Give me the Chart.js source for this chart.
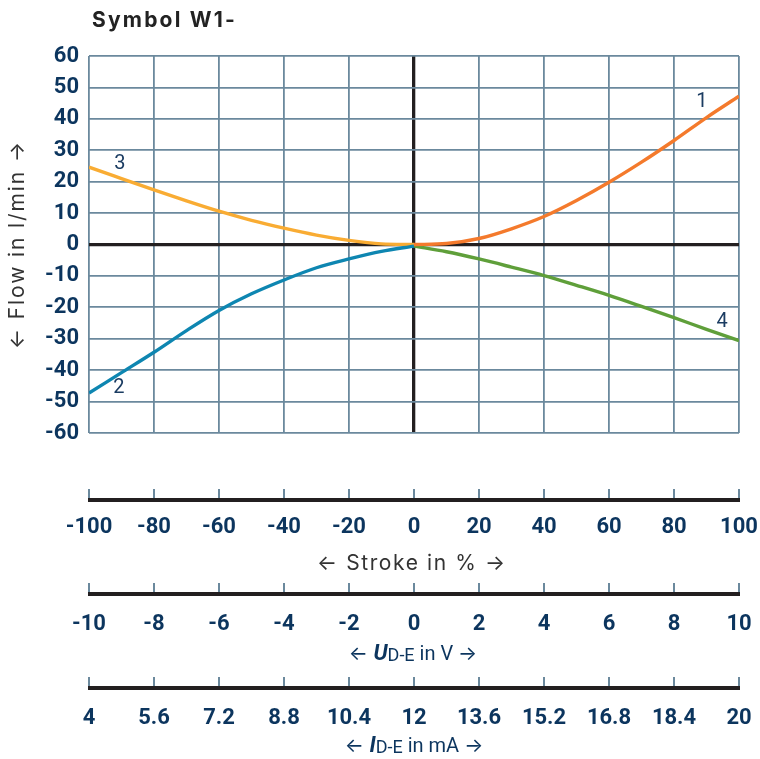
<!DOCTYPE html>
<html>
<head>
<meta charset="utf-8">
<script src="https://cdn.jsdelivr.net/npm/chart.js@4.4.1/dist/chart.umd.min.js"></script>
<style>
  html, body { margin: 0; padding: 0; background: #ffffff; }
  canvas { display: block; }
</style>
</head>
<body>
<canvas id="chart" width="760" height="759"></canvas>
<script>
// Stroke positions (%) at which the flow curves are sampled
const strokePositive = [0, 10, 20, 30, 40, 50, 60, 70, 80, 90, 100];
const strokeNegative = [-100, -90, -80, -70, -60, -50, -40, -30, -20, -10, 0];

// Flow in l/min for the four characteristic curves
const flowCurve1 = [0, 0.3, 1.9, 5.0, 8.9, 14.0, 19.8, 26.2, 33.1, 40.4, 47.2];
const flowCurve2 = [-47.3, -40.8, -34.3, -27.4, -21.0, -15.7, -11.3, -7.4, -4.6, -2.2, -0.5];
const flowCurve3 = [24.6, 21.0, 17.4, 13.9, 10.6, 7.7, 5.2, 3.0, 1.3, 0.2, 0];
const flowCurve4 = [-0.5, -2.3, -4.6, -7.2, -9.9, -13.0, -16.2, -19.7, -23.3, -27.0, -30.6];

// Tick values of the four scales
const flowTicks = [-60, -50, -40, -30, -20, -10, 0, 10, 20, 30, 40, 50, 60];
const strokeTicks = [-100, -80, -60, -40, -20, 0, 20, 40, 60, 80, 100];
const voltageTicks = [-10, -8, -6, -4, -2, 0, 2, 4, 6, 8, 10];
const currentTicks = [4, 5.6, 7.2, 8.8, 10.4, 12, 13.6, 15.2, 16.8, 18.4, 20];

// Curve numbers and where they are written (stroke %, flow l/min)
const curveNames = ['1', '2', '3', '4'];
const curveLabelStroke = [88.6, -90.8, -90.5, 94.8];
const curveLabelFlow = [45.2, -45.8, 25.5, -24.8];

const GRID = '#6b899d';
const AXIS = '#231f20';
const NAVY = '#0c355e';
const TEXT = '#333333';
const COLOR_1 = '#f47a2c';
const COLOR_2 = '#0e86b1';
const COLOR_3 = '#f9ac33';
const COLOR_4 = '#5f9f3a';

const pairs = (xs, ys) => xs.map((x, i) => ({ x, y: ys[i] }));
const fixedTicks = values => scale => { scale.ticks = values.map(v => ({ value: v })); };
const tickFont = { family: 'Roboto', weight: 'bold', size: 22 };

const gridColor = c => (c.tick && c.tick.value === 0 ? AXIS : GRID);
const gridWidth = c => (c.tick && c.tick.value === 0 ? 3.3 : 1.8);

// Horizontal scales keep a fixed height and no extra side padding
const fitHorizontal = height => s => { s.height = height; s.paddingLeft = 0; s.paddingRight = 0; };

function lowerAxis(min, max, values, weight, height, padding) {
  return {
    type: 'linear', position: 'bottom', weight, min, max,
    afterBuildTicks: fixedTicks(values),
    ticks: {
      color: NAVY, font: tickFont, padding, autoSkip: false, maxRotation: 0,
      callback: v => String(v)
    },
    grid: { drawOnChartArea: false, drawTicks: true, tickLength: 13, color: GRID, lineWidth: 2 },
    border: { display: false },
    afterFit: fitHorizontal(height)
  };
}

function line(data, color) {
  return {
    data, borderColor: color, borderWidth: 3.4, pointRadius: 0,
    cubicInterpolationMode: 'monotone', fill: false,
    xAxisID: 'x', yAxisID: 'y'
  };
}

// Text with extra tracking
function tracked(ctx, text, x, y, font, color, spacing, align) {
  ctx.save();
  ctx.font = font;
  ctx.fillStyle = color;
  ctx.letterSpacing = spacing + 'px';
  const w = ctx.measureText(text).width - spacing;
  let sx = x;
  if (align === 'center') sx = x - w / 2;
  else if (align === 'right') sx = x - w;
  ctx.textAlign = 'left';
  ctx.textBaseline = 'middle';
  ctx.fillText(text, sx, y);
  ctx.restore();
  return w;
}

// Title made of runs with their own fonts; centred on cx, baseline at by
function richTitle(ctx, runs, cx, by, color) {
  ctx.save();
  ctx.fillStyle = color;
  ctx.textBaseline = 'alphabetic';
  ctx.textAlign = 'left';
  let total = 0;
  const widths = runs.map(r => { ctx.font = r.font; const w = ctx.measureText(r.text).width; total += w; return w; });
  let x = cx - total / 2;
  runs.forEach((r, i) => {
    ctx.font = r.font;
    ctx.fillText(r.text, x, by + (r.dy || 0));
    x += widths[i];
  });
  ctx.restore();
}

const ARROW_FONT = '400 20px Inter';

const decorations = {
  id: 'decorations',
  afterDraw(chart) {
    const ctx = chart.ctx;
    const { x, y, xs, xu, xi } = chart.scales;
    const area = chart.chartArea;

    // Thick baselines of the three lower scales
    ctx.save();
    ctx.strokeStyle = AXIS;
    ctx.lineWidth = 4;
    for (const s of [xs, xu, xi]) {
      const yy = s.top + 11;
      ctx.beginPath();
      ctx.moveTo(s.getPixelForValue(s.min) - 1, yy);
      ctx.lineTo(s.getPixelForValue(s.max) + 1, yy);
      ctx.stroke();
    }
    ctx.restore();

    // Chart heading
    tracked(ctx, 'Symbol W1-', area.left + 3, 21, '700 21px Inter', '#222222', 2.2, 'left');

    // Vertical axis title
    ctx.save();
    ctx.translate(18, (area.top + area.bottom) / 2 + 1);
    ctx.rotate(-Math.PI / 2);
    tracked(ctx, '\u2190 Flow in l/min \u2192', 0, 0, '400 21px Inter', TEXT, 1.9, 'center');
    ctx.restore();

    const cx = (area.left + area.right) / 2;
    // Stroke title
    tracked(ctx, '\u2190 Stroke in % \u2192', cx - 3, xs.bottom - 19, '400 21px Inter', TEXT, 1.6, 'center');

    // Voltage and current titles
    richTitle(ctx, [
      { text: '\u2190 ', font: ARROW_FONT },
      { text: 'U', font: 'italic 700 22px Roboto' },
      { text: 'D-E', font: '400 18px Roboto', dy: 1 },
      { text: ' in V ', font: '400 20px Roboto' },
      { text: '\u2192', font: ARROW_FONT }
    ], cx - 1, xu.bottom - 17, NAVY);
    richTitle(ctx, [
      { text: '\u2190 ', font: ARROW_FONT },
      { text: 'I', font: 'italic 700 22px Roboto' },
      { text: 'D-E', font: '400 18px Roboto', dy: 1 },
      { text: ' in mA ', font: '400 20px Roboto' },
      { text: '\u2192', font: ARROW_FONT }
    ], cx, xi.bottom - 7, NAVY);

    // Curve numbers
    ctx.save();
    ctx.font = '400 20px Roboto';
    ctx.fillStyle = '#1b3c62';
    ctx.textAlign = 'center';
    ctx.textBaseline = 'middle';
    curveNames.forEach((name, i) => {
      ctx.fillText(name, x.getPixelForValue(curveLabelStroke[i]), y.getPixelForValue(curveLabelFlow[i]));
    });
    ctx.restore();
  }
};

new Chart(document.getElementById('chart'), {
  type: 'line',
  data: {
    datasets: [
      line(pairs(strokePositive, flowCurve1), COLOR_1),
      line(pairs(strokeNegative, flowCurve2), COLOR_2),
      line(pairs(strokeNegative, flowCurve3), COLOR_3),
      line(pairs(strokePositive, flowCurve4), COLOR_4)
    ]
  },
  options: {
    responsive: false,
    animation: false,
    devicePixelRatio: 1,
    layout: { padding: { top: 56, right: 21, bottom: 0, left: 0 } },
    plugins: { legend: { display: false }, tooltip: { enabled: false }, title: { display: false } },
    scales: {
      x: {
        type: 'linear', position: 'bottom', weight: 0, min: -100, max: 100,
        afterBuildTicks: fixedTicks(strokeTicks),
        ticks: { display: false },
        grid: { color: gridColor, lineWidth: gridWidth, drawTicks: false },
        border: { display: false },
        afterFit: fitHorizontal(56)
      },
      y: {
        type: 'linear', position: 'left', min: -60, max: 60,
        afterBuildTicks: fixedTicks(flowTicks),
        ticks: { color: NAVY, font: tickFont, padding: 10 },
        grid: { color: gridColor, lineWidth: gridWidth, drawTicks: false },
        border: { display: false },
        afterFit: s => { s.width = 89; s.paddingTop = 0; s.paddingBottom = 0; }
      },
      xs: lowerAxis(-100, 100, strokeTicks, 1, 94, 12),
      xu: lowerAxis(-10, 10, voltageTicks, 2, 94, 15),
      xi: lowerAxis(4, 20, currentTicks, 3, 82, 15)
    }
  },
  plugins: [decorations]
});
</script>
</body>
</html>
